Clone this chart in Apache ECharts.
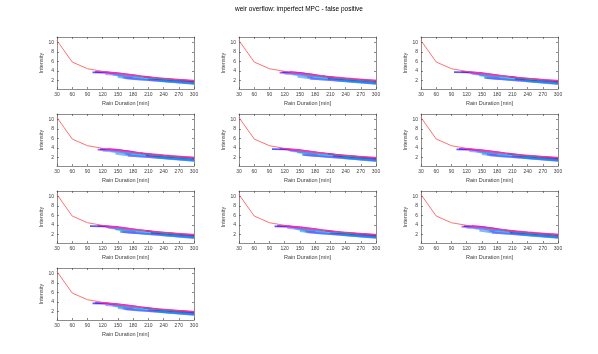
<!DOCTYPE html>
<html>
<head>
<meta charset="utf-8">
<script src="https://cdn.jsdelivr.net/npm/echarts@6/dist/echarts.min.js"></script>
<style>
  html, body { margin: 0; padding: 0; background: #fff; }
  #chart { width: 598px; height: 354px; }
</style>
</head>
<body>
<div id="chart"></div>
<script>
  // reference curve (red) shared by every panel
  const durations = [30, 60, 90, 120, 150, 180, 210, 240, 270, 300]
  const idfIntensity = [10.35, 5.85, 4.45, 3.9, 3.45, 3.05, 2.7, 2.4, 2.15, 1.95]
  const yTicks = [2, 4, 6, 8, 10]

  const ensembleColors = ['#0000ff', '#7b00ff', '#ff00ff', '#00b4ff', '#00d890',
    '#3050ff', '#8080ff', '#a000c0', '#00ffff', '#2020a0', '#4f8cff', '#6a5cff', '#00a0e0']

  // ensemble runs, [duration, intensity] pairs
  const ensembleA = [
    [[100, 3.7], [130, 3.65], [160, 3.0], [200, 2.4], [240, 2.05], [300, 1.55]],
    [[105, 3.8], [145, 3.6], [180, 3.1], [210, 2.6], [250, 2.2], [300, 1.8]],
    [[120, 3.8], [150, 3.45], [195, 2.9], [230, 2.5], [270, 2.15], [300, 1.95]],
    [[140, 3.2], [165, 2.7], [200, 2.35], [250, 1.9], [300, 1.45]],
    [[150, 3.0], [175, 2.8], [210, 2.5], [260, 2.1]],
    [[160, 2.6], [190, 2.4], [225, 2.1], [270, 1.8], [300, 1.6]],
    [[125, 3.3], [155, 3.1], [190, 2.6], [240, 2.2], [300, 1.7]],
    [[200, 2.8], [230, 2.35], [260, 2.1], [300, 1.85]],
    [[180, 2.5], [215, 2.3], [250, 2.0], [290, 1.55]],
    [[210, 2.2], [240, 2.0], [270, 1.75], [300, 1.5]],
    [[150, 2.7], [180, 2.3], [210, 2.05], [250, 1.75], [300, 1.35]],
    [[165, 2.45], [200, 2.15], [240, 1.8], [300, 1.3]],
    [[230, 1.95], [265, 1.65], [300, 1.4]]
  ]
  const ensembleB = [
    [[115, 3.75], [150, 3.6], [175, 3.2], [205, 2.6], [245, 2.2], [300, 1.7]],
    [[110, 3.65], [140, 3.5], [170, 2.95], [215, 2.45], [260, 2.05], [300, 1.85]],
    [[130, 3.85], [160, 3.4], [200, 2.85], [240, 2.45], [280, 2.1], [300, 2.0]],
    [[135, 3.3], [160, 2.9], [195, 2.5], [240, 2.0], [300, 1.55]],
    [[155, 3.1], [185, 2.75], [220, 2.45], [265, 2.05]],
    [[165, 2.7], [195, 2.45], [230, 2.15], [275, 1.8], [300, 1.65]],
    [[120, 3.4], [150, 3.2], [185, 2.7], [235, 2.25], [300, 1.75]],
    [[195, 2.9], [225, 2.45], [255, 2.2], [300, 1.9]],
    [[175, 2.55], [210, 2.35], [245, 2.05], [295, 1.6]],
    [[205, 2.3], [235, 2.05], [265, 1.8], [300, 1.5]],
    [[145, 2.8], [175, 2.35], [205, 2.1], [245, 1.8], [300, 1.4]],
    [[170, 2.4], [205, 2.1], [245, 1.75], [300, 1.3]],
    [[225, 2.0], [260, 1.7], [300, 1.35]]
  ]
  const ensembleC = [
    [[95, 3.75], [125, 3.7], [155, 3.1], [195, 2.5], [235, 2.1], [300, 1.6]],
    [[110, 3.8], [150, 3.55], [185, 3.0], [220, 2.55], [255, 2.2], [300, 1.75]],
    [[125, 3.75], [155, 3.4], [190, 2.95], [230, 2.45], [275, 2.1], [300, 1.95]],
    [[145, 3.15], [170, 2.65], [205, 2.3], [255, 1.9], [300, 1.5]],
    [[145, 3.05], [170, 2.85], [205, 2.55], [255, 2.15]],
    [[155, 2.55], [185, 2.35], [220, 2.1], [265, 1.85], [300, 1.55]],
    [[130, 3.35], [160, 3.05], [195, 2.6], [245, 2.2], [300, 1.7]],
    [[205, 2.75], [235, 2.3], [265, 2.05], [300, 1.8]],
    [[185, 2.45], [220, 2.25], [255, 1.95], [295, 1.5]],
    [[215, 2.25], [245, 1.95], [275, 1.7], [300, 1.45]],
    [[155, 2.65], [185, 2.25], [215, 2.0], [255, 1.7], [300, 1.35]],
    [[160, 2.5], [195, 2.2], [235, 1.85], [300, 1.25]],
    [[235, 1.9], [270, 1.6], [300, 1.4]]
  ]
  const panelEnsembles = [ensembleA, ensembleB, ensembleC, ensembleB, ensembleC,
    ensembleA, ensembleC, ensembleA, ensembleB, ensembleA]

  const chart = echarts.init(document.getElementById('chart'))

  const colLeft = [57, 239, 421]
  const rowTop = [37, 114, 191, 268]
  const axisColor = '#404040'
  const font = 'Liberation Sans, Arial, sans-serif'

  const grid = [], xAxis = [], yAxis = [], series = []
  const idfData = durations.map((d, i) => [d, idfIntensity[i]])

  panelEnsembles.forEach((ens, p) => {
    grid.push({
      left: colLeft[p % 3], top: rowTop[Math.floor(p / 3)],
      width: 137, height: 52, containLabel: false
    })
    const line = { show: true, onZero: false, lineStyle: { color: axisColor, width: 0.6 } }
    const tick = { show: true, inside: true, length: 2, lineStyle: { color: axisColor, width: 0.6 } }
    xAxis.push({
      type: 'value', gridIndex: p, min: 30, max: 300, interval: 30,
      position: 'bottom', axisLine: line, axisTick: tick, splitLine: { show: false },
      axisLabel: { fontSize: 5, color: axisColor, margin: 3, fontFamily: font },
      name: 'Rain Duration [min]', nameLocation: 'middle', nameGap: 11,
      nameTextStyle: { fontSize: 5.5, color: axisColor, fontFamily: font }
    })
    xAxis.push({
      type: 'value', gridIndex: p, min: 30, max: 300, interval: 30,
      position: 'top', axisLine: line, axisTick: tick, splitLine: { show: false },
      axisLabel: { show: false }
    })
    yAxis.push({
      type: 'value', gridIndex: p, min: 0.2, max: 11.1,
      position: 'left', axisLine: line, splitLine: { show: false },
      axisTick: Object.assign({ customValues: yTicks }, tick),
      axisLabel: { customValues: yTicks, fontSize: 5, color: axisColor, margin: 3, fontFamily: font },
      name: 'Intensity', nameLocation: 'middle', nameGap: 11, nameRotate: 90,
      nameTextStyle: { fontSize: 5.5, color: axisColor, fontFamily: font }
    })
    yAxis.push({
      type: 'value', gridIndex: p, min: 0.2, max: 11.1,
      position: 'right', axisLine: line, splitLine: { show: false },
      axisTick: Object.assign({ customValues: yTicks }, tick),
      axisLabel: { show: false }
    })
    ens.forEach((run, k) => {
      series.push({
        type: 'line', xAxisIndex: p * 2, yAxisIndex: p * 2, data: run,
        symbol: 'none', silent: true, animation: false,
        lineStyle: { color: ensembleColors[k % ensembleColors.length], width: 1.8, opacity: 0.65 }
      })
    })
    series.push({
      type: 'line', xAxisIndex: p * 2, yAxisIndex: p * 2, data: idfData,
      symbol: 'none', silent: true, animation: false,
      lineStyle: { color: '#ff4d4d', width: 0.8 }
    })
  })

  chart.setOption({
    animation: false,
    title: {
      text: 'weir overflow: imperfect MPC - false positive',
      left: 'center', top: 1,
      textStyle: { fontSize: 6.5, fontWeight: 'normal', color: '#000', fontFamily: font }
    },
    grid, xAxis, yAxis, series
  })
</script>
</body>
</html>
